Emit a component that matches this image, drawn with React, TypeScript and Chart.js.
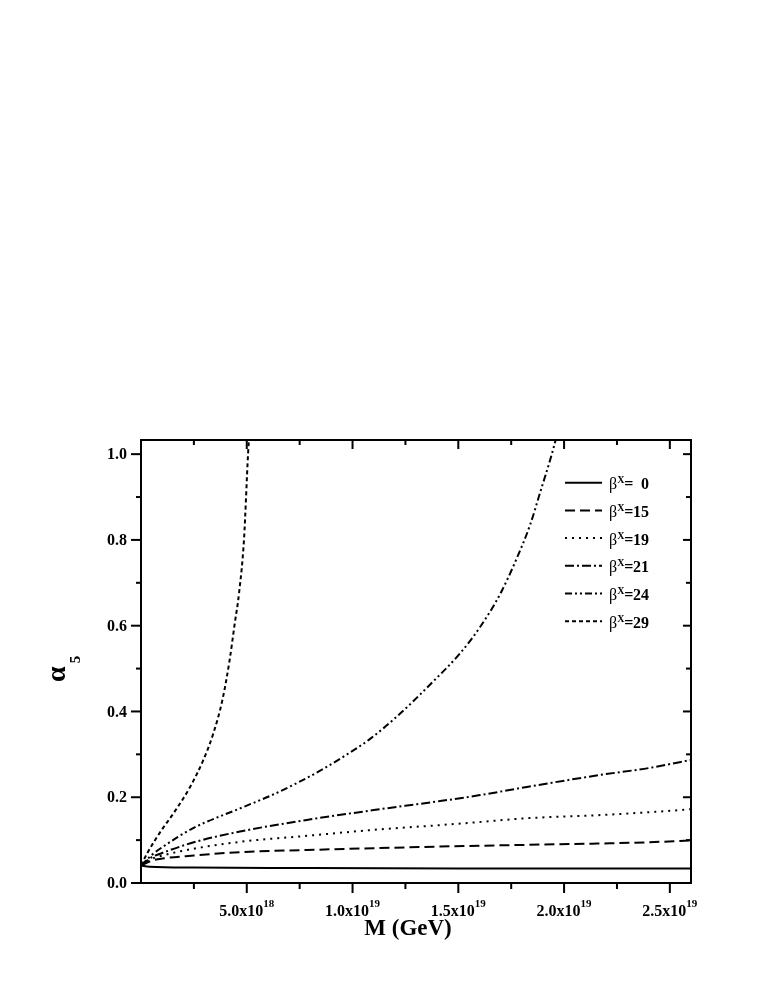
import React, { useEffect, useRef } from 'react';
import { Chart, registerables } from 'chart.js';

Chart.register(...registerables);

// M in units of 1e18 GeV, alpha_5 values
const M_B0 = [0, 0.4, 2.5, 7, 15, 26];
const A_B0 = [0.041, 0.038, 0.036, 0.035, 0.034, 0.034];

const M_B15 = [0, 0.5, 1, 2.5, 4.68, 7.84, 11, 14.14, 18.24, 21.55, 24, 26];
const A_B15 = [0.041, 0.052, 0.057, 0.064, 0.072, 0.077, 0.081, 0.085, 0.089, 0.092, 0.095, 0.099];

const M_B19 = [0, 0.5, 1, 2.5, 4.68, 7.84, 11, 14.14, 15.72, 18.24, 21.55, 24, 26];
const A_B19 = [0.041, 0.056, 0.064, 0.08, 0.096, 0.11, 0.124, 0.135, 0.141, 0.151, 0.158, 0.165, 0.172];

const M_B21 = [0, 0.5, 1, 2.5, 4.68, 7.84, 11, 14.14, 16.03, 18.24, 21.71, 24, 26];
const A_B21 = [0.041, 0.06, 0.07, 0.095, 0.12, 0.147, 0.17, 0.191, 0.205, 0.224, 0.252, 0.268, 0.287];

const M_B24 = [0, 0.5, 1.05, 2.47, 4.68, 6.1, 7.29, 8.47, 9.65, 10.83, 12.25, 13.67, 15.09, 16.03, 16.98, 17.78, 18.4, 18.87, 19.35, 19.68];
const A_B24 = [0.041, 0.065, 0.085, 0.128, 0.174, 0.203, 0.231, 0.262, 0.297, 0.336, 0.395, 0.463, 0.536, 0.597, 0.674, 0.759, 0.836, 0.911, 0.988, 1.047];

const M_B29 = [0, 0.3, 0.98, 1.53, 2.32, 2.95, 3.42, 3.85, 4.19, 4.42, 4.64, 4.87, 5.06, 5.13];
const A_B29 = [0.041, 0.07, 0.124, 0.162, 0.224, 0.287, 0.349, 0.427, 0.52, 0.601, 0.678, 0.802, 1.0, 1.056];

const SERIES_LABELS = ['0', '15', '19', '21', '24', '29'];
const SERIES_DASH: number[][] = [[], [10, 5], [2, 5], [9, 3, 2, 3], [7, 3, 2, 3, 2, 3], [4, 3]];

const X_MAJOR = [5, 10, 15, 20, 25];
const X_MAJOR_MANT = ['5.0x10', '1.0x10', '1.5x10', '2.0x10', '2.5x10'];
const X_MAJOR_EXP = ['18', '19', '19', '19', '19'];
const X_MINOR = [2.5, 7.5, 12.5, 17.5, 22.5];
const Y_MAJOR = [0, 0.2, 0.4, 0.6, 0.8, 1.0];
const Y_MAJOR_LABELS = ['0.0', '0.2', '0.4', '0.6', '0.8', '1.0'];
const Y_MINOR = [0.1, 0.3, 0.5, 0.7, 0.9];

const FONT = '"Liberation Serif", "Times New Roman", serif';

const framePlugin = {
  id: 'framePlugin',
  afterDatasetsDraw(chart: any) {
    const { ctx, chartArea: ca, scales } = chart;
    const xs = scales.x;
    const ys = scales.y;
    ctx.save();
    ctx.setLineDash([]);
    ctx.strokeStyle = '#000';
    ctx.fillStyle = '#000';
    ctx.lineWidth = 2;
    ctx.strokeRect(ca.left, ca.top, ca.right - ca.left, ca.bottom - ca.top);

    const line = (x1: number, y1: number, x2: number, y2: number) => {
      ctx.beginPath();
      ctx.moveTo(x1, y1);
      ctx.lineTo(x2, y2);
      ctx.stroke();
    };
    X_MAJOR.forEach((v) => {
      const px = xs.getPixelForValue(v);
      line(px, ca.bottom, px, ca.bottom + 10);
      line(px, ca.top, px, ca.top + 9);
    });
    X_MINOR.forEach((v) => {
      const px = xs.getPixelForValue(v);
      line(px, ca.bottom, px, ca.bottom + 6);
      line(px, ca.top, px, ca.top + 5);
    });
    Y_MAJOR.forEach((v) => {
      const py = ys.getPixelForValue(v);
      line(ca.left - 10, py, ca.left, py);
      line(ca.right - 8, py, ca.right, py);
    });
    Y_MINOR.forEach((v) => {
      const py = ys.getPixelForValue(v);
      line(ca.left - 5, py, ca.left, py);
      line(ca.right - 5, py, ca.right, py);
    });

    ctx.font = `bold 16px ${FONT}`;
    ctx.textAlign = 'right';
    ctx.textBaseline = 'middle';
    Y_MAJOR.forEach((v, i) => {
      ctx.fillText(Y_MAJOR_LABELS[i], ca.left - 14, ys.getPixelForValue(v) + 1);
    });

    ctx.textAlign = 'left';
    ctx.textBaseline = 'alphabetic';
    X_MAJOR.forEach((v, i) => {
      const px = xs.getPixelForValue(v);
      ctx.font = `bold 16px ${FONT}`;
      const w1 = ctx.measureText(X_MAJOR_MANT[i]).width;
      ctx.font = `bold 11px ${FONT}`;
      const w2 = ctx.measureText(X_MAJOR_EXP[i]).width;
      const start = px - (w1 + w2) / 2;
      ctx.font = `bold 16px ${FONT}`;
      ctx.fillText(X_MAJOR_MANT[i], start, ca.bottom + 33);
      ctx.font = `bold 11px ${FONT}`;
      ctx.fillText(X_MAJOR_EXP[i], start + w1, ca.bottom + 24);
    });

    ctx.font = `bold 23px ${FONT}`;
    ctx.textAlign = 'center';
    ctx.fillText('M (GeV)', 408, ca.bottom + 52);

    ctx.save();
    ctx.translate(65, 682);
    ctx.rotate(-Math.PI / 2);
    ctx.textAlign = 'left';
    ctx.font = `bold 28px ${FONT}`;
    ctx.fillText('α', 0, 0);
    const wa = ctx.measureText('α').width;
    ctx.font = `bold 15px ${FONT}`;
    ctx.fillText('5', wa + 3, 15);
    ctx.restore();

    const x0 = 565;
    const x1 = 602;
    SERIES_LABELS.forEach((lab, i) => {
      const ly = 482.7 + i * 27.7;
      ctx.setLineDash(SERIES_DASH[i]);
      ctx.lineWidth = 2;
      line(x0, ly, x1, ly);
      ctx.setLineDash([]);
      const by = ly + 6.6;
      ctx.textAlign = 'left';
      ctx.font = `16px ${FONT}`;
      ctx.fillText('β', 609, by);
      const wb = ctx.measureText('β').width;
      ctx.font = `bold 10px ${FONT}`;
      ctx.fillText('X', 609 + wb, by - 6);
      const wx = ctx.measureText('X').width;
      ctx.font = `bold 16px ${FONT}`;
      ctx.fillText('=', 609 + wb + wx, by);
      ctx.textAlign = 'right';
      ctx.fillText(lab, 649, by);
    });
    ctx.restore();
  },
};

function mk(ms: number[], as: number[]) {
  return ms.map((m, i) => ({ x: m, y: as[i] }));
}

export default function App() {
  const ref = useRef<HTMLCanvasElement | null>(null);
  useEffect(() => {
    if (!ref.current) return;
    const series = [
      mk(M_B0, A_B0),
      mk(M_B15, A_B15),
      mk(M_B19, A_B19),
      mk(M_B21, A_B21),
      mk(M_B24, A_B24),
      mk(M_B29, A_B29),
    ];
    const chart = new Chart(ref.current, {
      type: 'line',
      data: {
        datasets: series.map((d, i) => ({
          label: 'β=' + SERIES_LABELS[i],
          data: d,
          borderColor: '#000',
          borderWidth: 2,
          borderDash: SERIES_DASH[i],
          pointRadius: 0,
          fill: false,
          cubicInterpolationMode: 'monotone',
        })),
      },
      options: {
        animation: false,
        responsive: false,
        maintainAspectRatio: false,
        devicePixelRatio: 1,
        layout: { padding: { left: 141, top: 440, right: 72, bottom: 104 } },
        scales: {
          x: { type: 'linear', display: false, min: 0, max: 26 },
          y: { type: 'linear', display: false, min: 0, max: 1.033 },
        },
        plugins: { legend: { display: false }, tooltip: { enabled: false } },
      },
      plugins: [framePlugin],
    } as any);
    return () => chart.destroy();
  }, []);
  return (
    <div style={{ position: 'absolute', left: 0, top: 0, width: 763, height: 987, background: '#fff' }}>
      <canvas ref={ref} width={763} height={987} style={{ width: 763, height: 987 }} />
    </div>
  );
}
